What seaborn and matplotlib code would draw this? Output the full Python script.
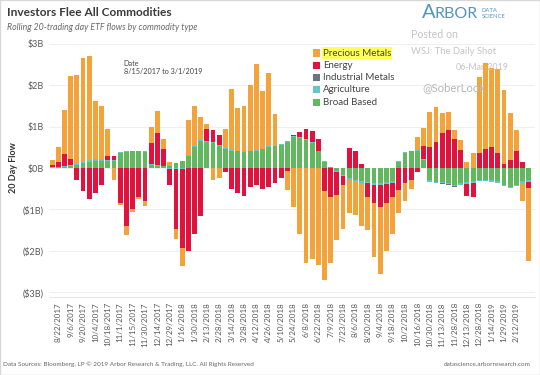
import numpy as np
import pandas as pd
import seaborn as sns
import matplotlib.pyplot as plt
from matplotlib.patches import Rectangle

# -----------------------------
# DATA (weekly samples, $B)
# -----------------------------
precious_metals = [0.13, 0.35, 1.06, 2.00, 2.15, 2.50, 2.51, 1.41, 1.28, 0.67,
                   -0.30, -0.05, -0.20, -0.05, -0.05, -0.12, 0.40, 0.52, 0.25, 0.08,
                   -0.25, -0.45, 0.85, 0.98, 0.57, 0.10, -0.28, -0.25, 0.45, 1.46,
                   1.03, 1.10, 1.58, 2.06, 1.38, 1.78, 0.76, 0.02, -0.45, -0.95,
                   -1.60, -2.30, -2.20, -2.35, -2.15, -1.60, -1.08, -1.07, -0.80, -0.81,
                   -1.04, -0.80, -1.29, -1.60, -1.15, -0.90, -0.56, -0.43, -0.21, 0.32,
                   0.44, 0.85, 0.85, 0.48, 0.44, 0.21, 0.24, 0.15, 0.35, 1.85,
                   2.07, 1.90, 2.03, 1.78, 1.12, 0.52, -0.45, -1.75]
energy = [0.05, 0.12, 0.30, 0.15, -0.30, -0.55, -0.75, -0.60, -0.40, 0.08,
          0.10, -0.85, -1.41, -1.00, -0.70, -0.80, 0.50, 0.78, 0.40, -0.40,
          -1.45, -1.90, -2.00, -1.60, -1.15, 0.30, 0.30, 0.25, -0.10, -0.50,
          -0.60, -0.68, -0.45, -0.40, -0.50, -0.45, -0.35, -0.25, -0.08, 0.02,
          0.12, 0.24, 0.28, 0.27, -0.55, -0.70, -0.55, -0.20, 0.48, 0.40,
          0.10, -0.33, -0.45, -0.55, -0.47, -0.35, -0.53, -0.37, -0.29, -0.10,
          0.30, 0.51, 0.63, 0.84, 0.92, 0.71, 0.43, -0.30, -0.35, 0.35,
          0.47, 0.50, 0.35, 0.10, 0.20, 0.40, 0.15, -0.15]
industrial_metals = [0.00, 0.00, 0.00, 0.00, 0.00, 0.00, 0.00, 0.00, 0.00, 0.00,
                     0.00, 0.00, 0.00, 0.00, 0.00, 0.00, 0.00, 0.00, 0.00, 0.00,
                     0.00, 0.00, 0.00, 0.00, 0.00, 0.00, 0.00, 0.00, 0.00, 0.00,
                     0.00, 0.00, 0.00, 0.00, 0.00, 0.00, 0.00, 0.00, 0.00, 0.00,
                     0.00, 0.00, 0.00, 0.00, 0.00, 0.00, 0.00, 0.00, 0.00, 0.00,
                     0.00, 0.00, 0.00, 0.00, 0.00, 0.00, 0.00, 0.00, 0.00, 0.00,
                     0.00, -0.01, -0.01, -0.02, -0.02, -0.02, -0.01, 0.00, 0.00, 0.00,
                     0.00, 0.00, 0.00, 0.00, 0.00, 0.00, 0.00, 0.00]
agriculture = [0.01, 0.01, 0.01, 0.02, 0.02, 0.03, 0.04, 0.04, 0.04, 0.03,
               0.02, 0.02, 0.02, 0.02, 0.02, 0.02, 0.02, 0.01, 0.01, -0.02,
               -0.02, -0.02, 0.01, 0.02, 0.02, 0.02, 0.02, 0.02, 0.02, 0.02,
               0.02, 0.02, 0.02, 0.02, 0.02, 0.02, 0.02, 0.02, 0.02, 0.02,
               0.02, 0.02, 0.02, 0.02, 0.01, 0.00, -0.02, -0.03, -0.04, -0.04,
               -0.04, -0.04, -0.04, -0.04, -0.04, -0.04, 0.02, 0.02, 0.02, 0.02,
               0.02, -0.03, -0.03, -0.03, -0.03, -0.04, -0.04, -0.04, -0.03, -0.03,
               -0.03, -0.03, -0.03, -0.04, -0.04, -0.04, -0.03, -0.03]
broad_based = [0.01, 0.02, 0.03, 0.05, 0.08, 0.12, 0.15, 0.17, 0.18, 0.17,
               0.17, 0.37, 0.38, 0.40, 0.40, 0.38, 0.08, 0.06, 0.05, 0.06,
               0.12, 0.18, 0.30, 0.50, 0.65, 0.63, 0.60, 0.53, 0.47, 0.42,
               0.40, 0.38, 0.40, 0.42, 0.45, 0.50, 0.52, 0.55, 0.62, 0.75,
               0.72, 0.68, 0.60, 0.40, 0.15, 0.03, -0.08, -0.17, -0.25, -0.28,
               -0.32, -0.33, -0.36, -0.36, -0.34, -0.31, 0.15, 0.37, 0.40, 0.41,
               0.20, -0.30, -0.33, -0.34, -0.35, -0.40, -0.36, -0.34, -0.32, -0.28,
               -0.28, -0.30, -0.32, -0.40, -0.45, -0.40, -0.32, -0.30]

tick_labels = ["8/22/2017", "9/6/2017", "9/20/2017", "10/4/2017", "10/18/2017",
               "11/1/2017", "11/15/2017", "11/30/2017", "12/14/2017", "12/29/2017",
               "1/16/2018", "1/30/2018", "2/13/2018", "2/28/2018", "3/14/2018",
               "3/28/2018", "4/12/2018", "4/26/2018", "5/10/2018", "5/24/2018",
               "6/8/2018", "6/22/2018", "7/9/2018", "7/23/2018", "8/6/2018",
               "8/20/2018", "9/4/2018", "9/18/2018", "10/2/2018", "10/16/2018",
               "10/30/2018", "11/13/2018", "11/28/2018", "12/13/2018", "12/28/2018",
               "1/14/2019", "1/29/2019", "2/12/2019"]

# stacking order: innermost first
series = ["Broad Based", "Agriculture", "Industrial Metals", "Energy", "Precious Metals"]
colors = {"Precious Metals": "#F4A23A", "Energy": "#E2123F",
          "Industrial Metals": "#6C7480", "Agriculture": "#62C8C6",
          "Broad Based": "#62B85E"}

df = pd.DataFrame({"Broad Based": broad_based, "Agriculture": agriculture,
                   "Industrial Metals": industrial_metals, "Energy": energy,
                   "Precious Metals": precious_metals})
df["week"] = np.arange(len(df))

pos_cum = df[series].clip(lower=0).cumsum(axis=1)
neg_cum = df[series].clip(upper=0).cumsum(axis=1)

W, H = 540, 375


def fx(x):
    return x / W


def fy(y):
    return 1 - y / H


# -----------------------------
# PLOT
# -----------------------------
sns.set_style("white")
plt.rcParams["font.family"] = ["Lato", "DejaVu Sans"]

fig = plt.figure(figsize=(5.4, 3.75), dpi=100)
ax = fig.add_axes([fx(49), fy(296.6), 486 / W, 257.2 / H])

# outermost layer first, inner layers drawn over it
for name in series[::-1]:
    for cum in (pos_cum, neg_cum):
        sns.barplot(x=df["week"], y=cum[name], color=colors[name], saturation=1,
                    width=0.78, linewidth=0, errorbar=None, ax=ax)

ax.set_xlim(-0.5, 78.0)
ax.set_ylim(-3.1, 3.1)
ax.set_yticks([3, 2, 1, 0, -1, -2, -3])
ax.set_yticklabels(["$3B", "$2B", "$1B", "$0B", "($1B)", "($2B)", "($3B)"])
ax.set_xticks(np.arange(1, 76, 2))
ax.set_xticklabels(tick_labels, rotation=90)
ax.tick_params(axis="both", length=0, colors="#5a5a5a")
ax.tick_params(axis="x", labelsize=5.8, pad=4)
ax.tick_params(axis="y", labelsize=6.5, pad=4)
ax.set_xlabel("")
ax.set_ylabel("")
ax.yaxis.grid(True, color="#ececec", lw=0.6)
ax.set_axisbelow(True)
for s in ["top", "right", "left"]:
    ax.spines[s].set_visible(False)
ax.spines["bottom"].set_color("#e4e4e4")
ax.spines["bottom"].set_linewidth(0.6)

fig.text(fx(13), fy(168), "20 Day Flow", rotation=90, fontsize=6.5,
         fontweight="bold", color="#333333", ha="center", va="center")

# titles
fig.text(fx(7), fy(13), "Investors Flee All Commodities", fontsize=8.6,
         fontweight="bold", color="#3a3a3a", va="center")
fig.text(fx(7), fy(27), "Rolling 20-trading day ETF flows by commodity type",
         fontsize=6.3, style="italic", color="#6a6a6a", va="center")

# logo
fig.text(fx(422), fy(13), "A", fontsize=14.5, color="#5694BE", va="center")
fig.text(fx(434), fy(14), "RBOR", fontsize=11.5, color="#5694BE", va="center")
fig.text(fx(482), fy(10), "DATA", fontsize=4.2, color="#5694BE", va="center")
fig.text(fx(482), fy(16.5), "SCIENCE", fontsize=4.2, color="#5694BE", va="center")

# watermark
wm = "#c4c4c4"
fig.text(fx(411), fy(35), "Posted on", fontsize=7.6, color=wm, va="center")
fig.text(fx(411), fy(51), "WSJ: The Daily Shot", fontsize=6.8, color=wm, va="center")
fig.text(fx(456), fy(67), "06-Mar-2019", fontsize=6.3, color=wm, va="center")
fig.text(fx(422), fy(88), "@SoberLook", fontsize=8.2, color="#b8b8b8", va="center")

# date annotation
fig.text(fx(123), fy(63), "Date", fontsize=5.2, color="#444444", va="center")
fig.text(fx(124), fy(72), "8/15/2017 to 3/1/2019", fontsize=5.2, color="#444444",
         va="center")

# legend
legend_order = ["Precious Metals", "Energy", "Industrial Metals", "Agriculture",
                "Broad Based"]
for j, name in enumerate(legend_order):
    yy = 53 + 12.3 * j
    fig.patches.append(Rectangle((fx(313), fy(yy + 3.5)), 7 / W, 7 / H,
                                 transform=fig.transFigure,
                                 facecolor=colors[name], edgecolor="none"))
    t = fig.text(fx(323), fy(yy), name, fontsize=7, color="#444444", va="center")
    if j == 0:
        t.set_bbox(dict(facecolor="#FFFF55", edgecolor="none", pad=0.8))

# footer
fig.text(fx(3), fy(364), "Data Sources: Bloomberg, LP \u00a9 2019 Arbor Research & "
         "Trading, LLC. All Rights Reserved", fontsize=4.6, color="#666666",
         va="center")
fig.text(fx(531), fy(364), "datascience.arborresearch.com", fontsize=4.6,
         color="#666666", va="center", ha="right")

fig.patches.append(Rectangle((0, 0), 1, 1, transform=fig.transFigure,
                             facecolor="none", edgecolor="#d8d8d8", lw=1))

fig.savefig("out.png", dpi=100)
